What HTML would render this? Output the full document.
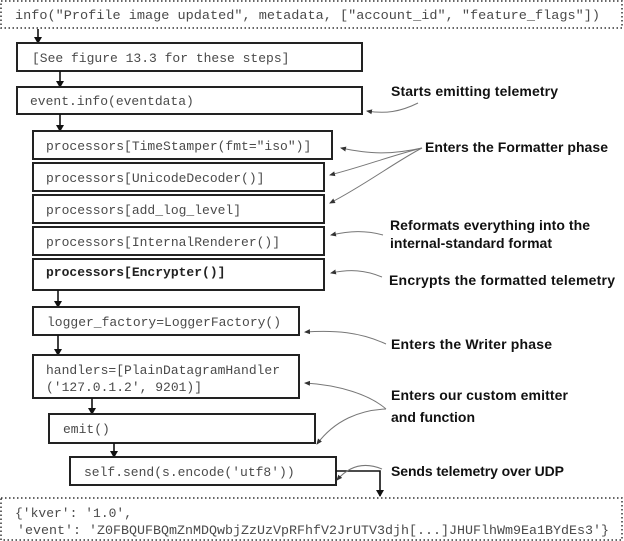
<!DOCTYPE html>
<html><head><meta charset="utf-8"><style>
html,body{margin:0;padding:0;background:#fff;}
svg{display:block}
.m{font-family:"Liberation Mono",monospace;font-size:13px;fill:#4a4a4a}
.l{font-family:"Liberation Sans",sans-serif;font-weight:bold;font-size:14px;fill:#111}
.b{fill:#fff;stroke:#222;stroke-width:2}
.c{fill:none;stroke:#777;stroke-width:1}
.a{stroke:#111;stroke-width:1.6;fill:none}
</style></head><body>
<svg width="624" height="541" viewBox="0 0 624 541">
<defs>
<marker id="h" markerWidth="8" markerHeight="8" refX="6" refY="4" orient="auto" markerUnits="userSpaceOnUse"><path d="M0,0 L7,4 L0,8z" fill="#111"/></marker>
<marker id="g" markerWidth="6" markerHeight="6" refX="5" refY="3" orient="auto" markerUnits="userSpaceOnUse"><path d="M0,0.5 L6,3 L0,5.5z" fill="#333"/></marker>
</defs>
<rect x="1" y="1" width="621" height="27" fill="#fff" stroke="#333" stroke-width="1.5" stroke-dasharray="1.5,2.5"/>
<text class="m" x="15" y="19" textLength="585" lengthAdjust="spacingAndGlyphs">info("Profile image updated", metadata, ["account_id", "feature_flags"])</text>
<line class="a" x1="38" y1="29" x2="38" y2="43" marker-end="url(#h)"/>
<rect class="b" x="17" y="43" width="345" height="28"/>
<text class="m" x="32" y="62">[See figure 13.3 for these steps]</text>
<line class="a" x1="60" y1="71" x2="60" y2="87" marker-end="url(#h)"/>
<rect class="b" x="17" y="87" width="345" height="27"/>
<text class="m" x="30" y="105">event.info(eventdata)</text>
<line class="a" x1="60" y1="114" x2="60" y2="131" marker-end="url(#h)"/>
<rect class="b" x="33" y="131" width="299" height="28"/>
<text class="m" x="46" y="150">processors[TimeStamper(fmt="iso")]</text>
<rect class="b" x="33" y="163" width="291" height="28"/>
<text class="m" x="46" y="182">processors[UnicodeDecoder()]</text>
<rect class="b" x="33" y="195" width="291" height="28"/>
<text class="m" x="46" y="214">processors[add_log_level]</text>
<rect class="b" x="33" y="227" width="291" height="28"/>
<text class="m" x="46" y="246">processors[InternalRenderer()]</text>
<rect class="b" x="33" y="259" width="291" height="31"/>
<text class="m" x="46" y="276" style="font-weight:bold;fill:#222">processors[Encrypter()]</text>
<line class="a" x1="58" y1="290" x2="58" y2="307" marker-end="url(#h)"/>
<rect class="b" x="33" y="307" width="266" height="28"/>
<text class="m" x="47" y="326">logger_factory=LoggerFactory()</text>
<line class="a" x1="58" y1="335" x2="58" y2="355" marker-end="url(#h)"/>
<rect class="b" x="33" y="355" width="266" height="43"/>
<text class="m" x="46" y="374">handlers=[PlainDatagramHandler</text>
<text class="m" x="46" y="391">('127.0.1.2', 9201)]</text>
<line class="a" x1="92" y1="398" x2="92" y2="414" marker-end="url(#h)"/>
<rect class="b" x="49" y="414" width="266" height="29"/>
<text class="m" x="63" y="433">emit()</text>
<line class="a" x1="114" y1="443" x2="114" y2="457" marker-end="url(#h)"/>
<rect class="b" x="70" y="457" width="266" height="28"/>
<text class="m" x="84" y="476">self.send(s.encode('utf8'))</text>
<polyline class="a" points="336,471 380,471 380,496" marker-end="url(#h)"/>
<rect x="1" y="498" width="621" height="42" fill="#fff" stroke="#333" stroke-width="1.5" stroke-dasharray="1.5,2.5"/>
<text class="m" x="15" y="517">{'kver': '1.0',</text>
<text class="m" x="17" y="534" textLength="592" lengthAdjust="spacingAndGlyphs">'event': 'Z0FBQUFBQmZnMDQwbjZzUzVpRFhfV2JrUTV3djh[...]JHUFlhWm9Ea1BYdEs3'}</text>
<text class="l" x="391" y="96" textLength="167">Starts emitting telemetry</text>
<text class="l" x="425" y="152" textLength="183">Enters the Formatter phase</text>
<text class="l" x="390" y="230" textLength="200">Reformats everything into the</text>
<text class="l" x="390" y="248" textLength="162">internal-standard format</text>
<text class="l" x="389" y="285" textLength="226">Encrypts the formatted telemetry</text>
<text class="l" x="391" y="349" textLength="161">Enters the Writer phase</text>
<text class="l" x="391" y="400" textLength="177">Enters our custom emitter</text>
<text class="l" x="391" y="422" textLength="84">and function</text>
<text class="l" x="391" y="476" textLength="173">Sends telemetry over UDP</text>
<path class="c" d="M418,103 C400,112 385,114 367,111" marker-end="url(#g)"/>
<path class="c" d="M422,148 C390,155 370,154 341,148" marker-end="url(#g)"/>
<path class="c" d="M422,148 C390,156 365,166 330,175" marker-end="url(#g)"/>
<path class="c" d="M422,148 C395,162 365,185 330,203" marker-end="url(#g)"/>
<path class="c" d="M383,235 C365,230 350,231 331,235" marker-end="url(#g)"/>
<path class="c" d="M382,277 C365,270 350,269 331,273" marker-end="url(#g)"/>
<path class="c" d="M386,344 C360,332 335,330 305,332" marker-end="url(#g)"/>
<path class="c" d="M386,409 C370,395 340,385 305,383" marker-end="url(#g)"/>
<path class="c" d="M386,409 C360,410 335,420 317,444" marker-end="url(#g)"/>
<path class="c" d="M382,469 C365,462 350,465 337,480" marker-end="url(#g)"/>
</svg>
</body></html>
